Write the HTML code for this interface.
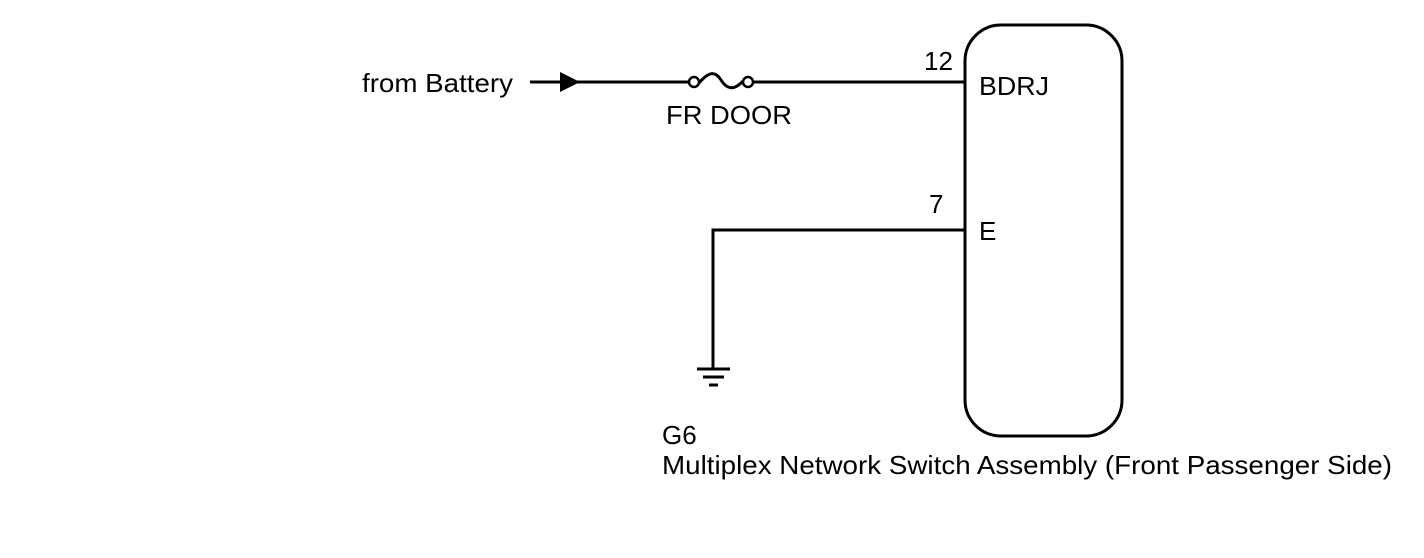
<!DOCTYPE html>
<html><head><style>html,body{margin:0;padding:0;background:#fff}svg{display:block}</style></head>
<body>
<svg width="1424" height="558" xmlns="http://www.w3.org/2000/svg" font-family="Liberation Sans, Arial, sans-serif" font-size="26" fill="#000">
<rect x="965" y="25" width="157" height="411" rx="36" ry="36" fill="none" stroke="#000" stroke-width="3"/>
<line x1="530" y1="82" x2="688" y2="82" stroke="#000" stroke-width="3"/>
<line x1="754" y1="82" x2="965" y2="82" stroke="#000" stroke-width="3"/>
<polygon points="560,72 580,82 560,92" fill="#000"/>
<circle cx="694" cy="82" r="5" fill="#fff" stroke="#000" stroke-width="2.5"/>
<circle cx="748" cy="82" r="5" fill="#fff" stroke="#000" stroke-width="2.5"/>
<path d="M699,83 C710,70 716,72 721,80 C726,88 733,92 743,81" fill="none" stroke="#000" stroke-width="3"/>
<polyline points="965,230 713,230 713,369" fill="none" stroke="#000" stroke-width="3"/>
<line x1="697" y1="369" x2="730" y2="369" stroke="#000" stroke-width="3"/>
<line x1="703" y1="377" x2="724" y2="377" stroke="#000" stroke-width="3"/>
<line x1="709" y1="385" x2="718" y2="385" stroke="#000" stroke-width="3"/>
<text x="362" y="92" textLength="151" lengthAdjust="spacingAndGlyphs">from Battery</text>
<text x="666" y="124" textLength="126" lengthAdjust="spacingAndGlyphs">FR DOOR</text>
<text x="924" y="70">12</text>
<text x="979" y="95" textLength="70" lengthAdjust="spacingAndGlyphs">BDRJ</text>
<text x="929" y="213">7</text>
<text x="979" y="240">E</text>
<text x="662" y="444">G6</text>
<text x="662" y="474" textLength="730" lengthAdjust="spacingAndGlyphs">Multiplex Network Switch Assembly (Front Passenger Side)</text>
</svg>
</body></html>
